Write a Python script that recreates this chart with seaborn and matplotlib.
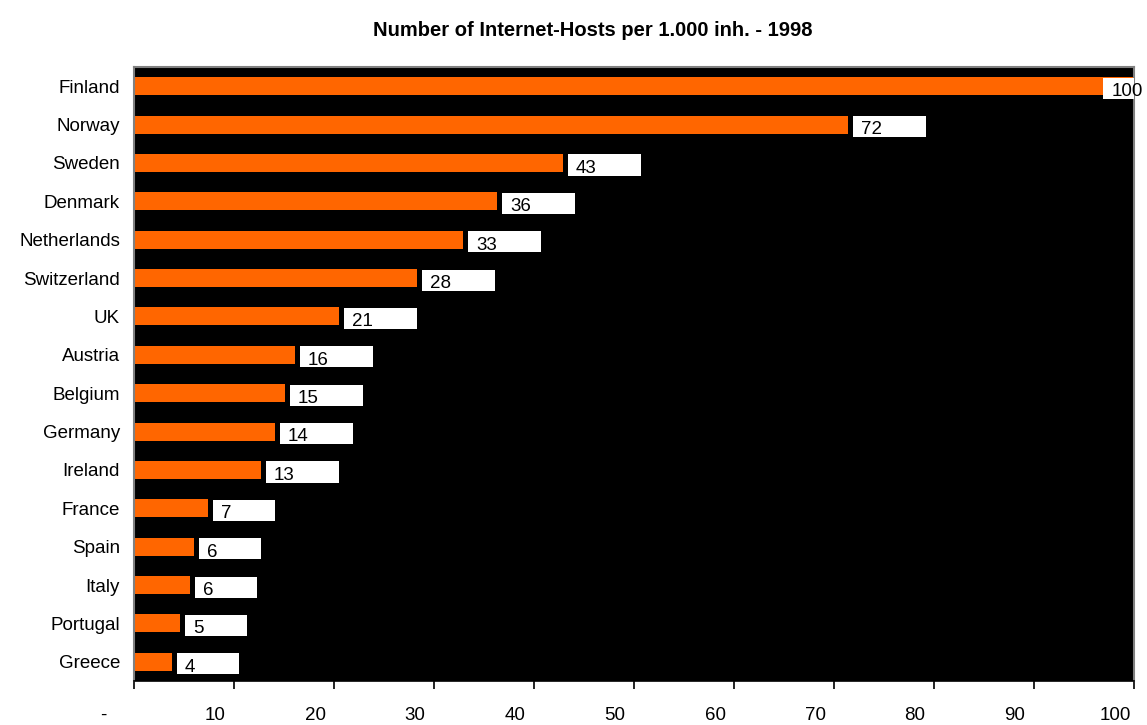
import matplotlib
matplotlib.use("Agg")
import matplotlib.pyplot as plt
import matplotlib.transforms as mtransforms
import seaborn as sns
import pandas as pd
from matplotlib.patches import Rectangle

countries = ["Finland", "Norway", "Sweden", "Denmark", "Netherlands", "Switzerland",
             "UK", "Austria", "Belgium", "Germany", "Ireland", "France", "Spain",
             "Italy", "Portugal", "Greece"]
values = [100, 71.4, 42.9, 36.3, 32.9, 28.3, 20.5, 16.1, 15.1, 14.1, 12.7, 7.4, 6.0, 5.6, 4.6, 3.8]
labels = ["100", "72", "43", "36", "33", "28", "21", "16", "15", "14", "13", "7", "6", "6", "5", "4"]
xticks = [0, 10, 20, 30, 40, 50, 60, 70, 80, 90, 100]
xticklabels = ["-", "10", "20", "30", "40", "50", "60", "70", "80", "90", "100"]

sns.set_theme(style="white")
plt.rcParams["font.family"] = ["Liberation Sans", "DejaVu Sans"]

df = pd.DataFrame({"country": countries, "value": values})

fig = plt.figure(figsize=(11.47, 7.25), dpi=100)
ax = fig.add_axes([134/1147, 1-681/725, 1000/1147, 614/725])
sns.barplot(data=df, x="value", y="country", orient="h", color="#FF6600",
            saturation=1, width=0.47, ax=ax, edgecolor="none")
ax.set_facecolor("black")
ax.set_xlim(0, 100)
ax.set_ylim(len(countries) - 0.5, -0.5)

# value label boxes
for i, (v, lab) in enumerate(zip(values, labels)):
    w = 5.1 + 1.1 * len(lab)
    x0 = v + 0.5
    tx = x0 + 0.8
    if x0 + w > 100:
        x0 = 96.9
        tx = x0 + 0.9
    ax.add_patch(Rectangle((x0, i - 0.22), w, 0.55, facecolor="white",
                           edgecolor="none", zorder=3, clip_on=True))
    ax.text(tx, i + 0.36, lab, fontsize=13.5, color="black",
            va="bottom", ha="left", zorder=4, clip_on=False)

ax.set_xticks(xticks)
ax.set_xticklabels(xticklabels, fontsize=13.5)
ax.tick_params(axis="x", direction="out", length=6, width=1.2, color="black",
               pad=12.5, bottom=True)
ax.tick_params(axis="y", length=0, pad=10, labelsize=13.5)
for lab in ax.get_yticklabels():
    lab.set_color("black")
for k, lab in enumerate(ax.get_xticklabels()):
    lab.set_color("black")
    dx = -31 if k == 0 else -19
    lab.set_transform(lab.get_transform() +
                      mtransforms.ScaledTranslation(dx/100, 0, fig.dpi_scale_trans))
ax.set_xlabel("")
ax.set_ylabel("")
for s in ["top", "right", "left"]:
    ax.spines[s].set_visible(True)
    ax.spines[s].set_color("#808080")
    ax.spines[s].set_linewidth(1.5)
ax.spines["bottom"].set_color("black")
ax.spines["bottom"].set_linewidth(1.2)

fig.text(593/1147, 1-30/725, "Number of Internet-Hosts per 1.000 inh. - 1998",
         ha="center", va="center", fontsize=14.5, fontweight="bold", color="black")

fig.savefig("out.png", dpi=100, facecolor="white")
